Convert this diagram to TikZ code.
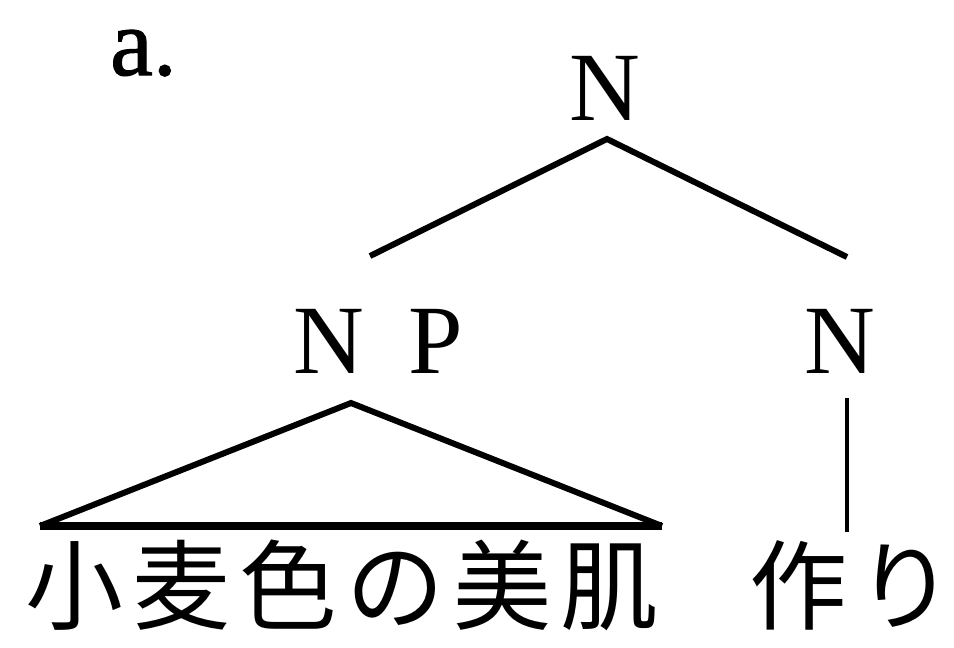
\documentclass[tikz,border=0pt]{standalone}
\usepackage{fontspec}
\setmainfont{Liberation Serif}
\newfontfamily\cjk{Noto Sans CJK JP}
\newfontfamily\lblfont[FakeBold=1.2]{Liberation Serif}
\newcommand{\jg}{\kern9pt}
\begin{document}
\begin{tikzpicture}[x=1pt,y=-1pt,
  lab/.style={inner sep=0pt,anchor=base,font=\fontsize{98}{110}\selectfont},
  jp/.style={inner sep=0pt,anchor=base west,font=\fontsize{98}{110}\selectfont\cjk},
  branch/.style={line width=6pt,line cap=butt}]
\useasboundingbox (0,0) rectangle (954,648);
\node[inner sep=0pt,anchor=base west,font=\fontsize{96}{100}\selectfont\lblfont] (a) at (110,75) {a.};
\node[lab] (top) at (605,120) {N};
\node[lab] (np) at (378,373) {N\hspace{0.2em} P};
\node[lab] (n) at (840,373) {N};
\node[jp] (w1) at (25,622) {小\jg 麦\jg 色\jg の\jg 美\jg 肌};
\node[jp] (w2) at (749,622) {作\jg り};
\coordinate (topb) at (607,139);
\coordinate (npt) at (370,256);
\coordinate (nt) at (847,257);
\coordinate (apex) at (351,403);
\coordinate (bl) at (40,526);
\coordinate (br) at (662,526);
\coordinate (vt) at (847,398);
\coordinate (vb) at (847,532);
\draw[branch] (npt) -- (topb) -- (nt);
\draw[branch,line join=miter] (bl) -- (apex) -- (br);
\draw[line width=8pt] (bl) -- (br);
\draw[line width=4pt] (vt) -- (vb);
\end{tikzpicture}
\end{document}
